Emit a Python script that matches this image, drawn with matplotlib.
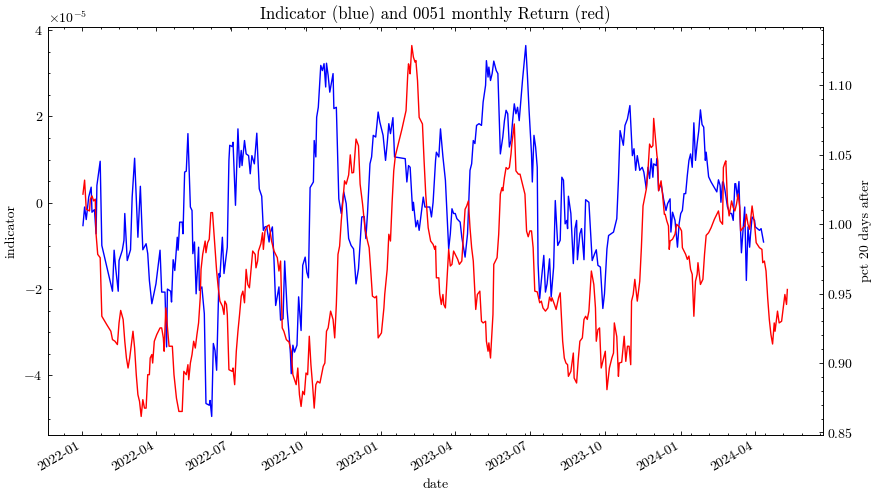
import numpy as np
import pandas as pd
import matplotlib
matplotlib.use("Agg")
import matplotlib.pyplot as plt

# dates are given as days after 2022-01-01
start = pd.Timestamp("2022-01-01")

ind_day = [1, 3, 5, 8, 11, 12, 15, 17, 18, 22, 24, 37, 39, 41, 44, 45, 49, 51, 52, 55,
           59, 61, 64, 68, 71, 74, 78, 80, 82, 85, 90, 95, 97, 101, 103, 104, 108, 109, 111, 113,
           116, 117, 119, 122, 123, 125, 127, 129, 132, 134, 135, 137, 139, 142, 143, 146, 149, 151, 155, 156,
           158, 160, 162, 164, 167, 168, 171, 173, 177, 179, 180, 183, 184, 187, 190, 192, 194, 195, 198, 200,
           203, 205, 207, 210, 213, 216, 219, 221, 223, 225, 228, 229, 232, 234, 236, 240, 242, 245, 247, 250,
           252, 254, 255, 257, 259, 262, 264, 267, 269, 272, 274, 276, 278, 282, 283, 285, 286, 288, 291, 293,
           295, 297, 298, 300, 302, 306, 307, 310, 311, 313, 316, 319, 322, 325, 328, 331, 334, 337, 339, 341,
           344, 346, 348, 351, 353, 355, 358, 361, 363, 367, 370, 372, 374, 376, 379, 381, 394, 396, 398, 400,
           403, 404, 407, 409, 411, 413, 416, 418, 424, 426, 428, 431, 432, 435, 437, 440, 443, 445, 447, 449,
           451, 453, 455, 457, 459, 461, 463, 465, 467, 470, 473, 475, 477, 479, 481, 484, 487, 489, 492, 493,
           495, 496, 498, 500, 502, 505, 507, 510, 513, 515, 517, 519, 521, 523, 525, 527, 529, 531, 533, 537,
           541, 543, 545, 548, 549, 551, 553, 555, 556, 558, 560, 563, 565, 567, 570, 572, 575, 577, 580, 583,
           585, 587, 589, 591, 592, 593, 596, 599, 601, 603, 604, 607, 609, 612, 614, 618, 622, 625, 627, 629,
           632, 635, 637, 640, 642, 648, 652, 654, 656, 660, 662, 665, 668, 671, 673, 675, 677, 680, 683, 685,
           688, 690, 692, 694, 696, 697, 700, 701, 703, 706, 709, 712, 714, 717, 718, 720, 723, 726, 728, 730,
           732, 734, 736, 738, 740, 742, 744, 746, 748, 750, 752, 754, 756, 758, 760, 761, 764, 767, 774, 776,
           778, 779, 781, 782, 784, 787, 790, 792, 794, 796, 797, 799, 801, 802, 804, 806, 808, 810, 812, 814,
           815, 817, 820, 821, 826, 828, 831]
# indicator, in units of 1e-5
ind_val = [-0.53, -0.10, -0.39, 0.13, 0.36, -0.22, -0.16, -0.72, 0.40, 0.96, -0.99, -2.05, -1.10, -1.53, -2.05, -1.34, -1.10, -0.87, -0.25, -1.34,
           -1.09, 0.13, 1.03, -0.80, 0.38, -1.09, -0.95, -1.18, -1.80, -2.34, -1.88, -1.10, -2.07, -2.07, -3.34, -2.00, -2.05, -2.30, -1.32, -1.57,
           -0.80, -1.10, -0.45, -0.45, -0.72, 0.71, 0.73, 1.60, -0.10, -0.18, -1.18, -0.91, -2.11, -1.03, -2.03, -1.95, -2.57, -4.65, -4.69, -4.58,
           -4.95, -3.26, -3.42, -3.88, -1.64, -1.72, -0.80, -1.64, -1.03, 0.98, 1.33, 1.30, 1.40, -0.06, 1.71, 0.82, 1.21, 0.86, 1.44, 1.13,
           1.09, 0.67, 1.09, 0.90, 1.61, 0.32, 0.15, -0.64, -0.56, -0.55, -0.91, -0.72, -0.56, -1.34, -2.38, -1.95, -2.72, -2.69, -1.35, -2.49,
           -2.96, -3.50, -3.96, -3.30, -3.46, -3.30, -2.18, -2.96, -1.45, -1.26, -1.61, -1.74, 0.35, 0.48, 1.44, 1.06, 1.98, 2.21, 3.18, 3.06,
           3.22, 2.68, 3.23, 2.95, 2.56, 2.99, 2.18, 2.21, 1.52, 0.09, -0.25, 0.25, -0.02, -0.83, -0.99, -1.07, -1.88, -1.53, -0.91, -0.33,
           -0.32, -0.83, -0.25, 0.90, 1.06, 1.56, 1.52, 2.10, 1.87, 1.56, 0.98, 1.37, 1.83, 1.60, 1.97, 1.06, 1.02, 0.48, 0.86, 0.82,
           -0.18, 0.01, -0.56, -0.41, -0.64, -0.33, 0.13, -0.10, -0.10, -0.33, 0.01, 0.98, 1.17, 1.06, 1.71, 1.06, 0.52, -0.25, -1.07, -0.72,
           -0.14, -0.25, -0.25, -0.37, -0.41, -0.45, -0.80, -1.03, -1.26, -0.72, 0.75, 0.90, 1.44, 1.37, 1.79, 1.83, 1.79, 2.33, 2.72, 3.29,
           2.91, 3.14, 2.83, 2.99, 3.28, 3.06, 2.99, 1.13, 1.52, 1.90, 2.14, 2.06, 1.29, 1.44, 1.90, 2.29, 2.06, 2.21, 1.90, 2.83,
           3.64, 2.95, 2.15, 1.13, 0.48, 1.56, 1.29, 0.82, -1.41, -2.22, -1.80, -1.22, -2.07, -1.88, -1.30, -2.18, -1.49, 0.05, -0.99, -0.87,
           0.59, 0.52, -0.49, -0.41, -0.60, 0.15, -0.25, -1.41, -0.60, -0.41, -1.32, -0.72, -0.60, -1.32, 0.07, 0.01, -1.34, -1.18, -1.09, -1.45,
           -1.49, -2.45, -2.11, -1.07, -0.76, -0.68, -0.37, 0.52, 1.67, 1.33, 1.79, 1.94, 2.25, 1.09, 1.25, 0.75, 1.09, 0.75, 0.82, 0.71,
           0.32, 0.82, 0.56, 1.02, 0.59, 0.90, 0.86, 1.02, 0.28, 0.44, 0.09, -0.18, -0.02, 0.09, -0.68, -0.22, -0.41, -1.03, -0.49, -0.25,
           -0.18, 0.21, 0.21, 0.63, 0.98, 1.13, 0.82, 1.85, 0.98, 1.37, 1.67, 2.15, 1.81, 1.75, 0.98, 1.17, 0.60, 0.48, 0.25, 0.53,
           0.40, 0.01, 0.48, 0.48, 0.28, -0.10, -0.25, -0.25, -0.41, 0.44, 0.44, 0.13, 0.49, -0.18, -1.16, -0.64, -0.10, -1.80, -0.56, -1.03,
           -0.76, -0.33, -0.41, -0.56, -0.64, -0.60, -0.91]

ret_day = [1, 3, 5, 9, 10, 12, 14, 16, 17, 19, 22, 24, 30, 35, 37, 40, 43, 45, 47, 50,
           52, 54, 56, 58, 60, 62, 64, 66, 68, 70, 72, 74, 76, 78, 80, 82, 83, 85, 86, 88,
           91, 95, 97, 99, 100, 102, 106, 110, 112, 115, 118, 122, 124, 127, 129, 130, 132, 134, 136, 138,
           140, 142, 144, 145, 147, 150, 151, 153, 155, 157, 159, 162, 164, 166, 168, 171, 173, 174, 176, 177,
           179, 183, 184, 186, 188, 190, 192, 194, 196, 198, 200, 202, 204, 206, 208, 211, 212, 214, 215, 218,
           220, 221, 223, 226, 228, 231, 234, 238, 240, 242, 244, 246, 249, 251, 252, 255, 257, 259, 261, 263,
           265, 267, 269, 271, 273, 275, 277, 279, 281, 283, 285, 287, 290, 292, 294, 296, 298, 300, 303, 306,
           308, 310, 312, 314, 316, 318, 320, 322, 325, 327, 329, 331, 334, 337, 339, 342, 345, 348, 350, 352,
           354, 357, 359, 361, 365, 368, 369, 372, 374, 376, 378, 380, 382, 386, 390, 395, 397, 398, 399, 400,
           402, 404, 406, 407, 409, 411, 415, 417, 419, 422, 425, 428, 430, 431, 432, 435, 436, 438, 440, 441,
           443, 445, 447, 449, 451, 453, 455, 458, 460, 463, 465, 467, 469, 471, 473, 475, 477, 479, 480, 482,
           485, 487, 489, 492, 493, 495, 496, 498, 501, 502, 506, 508, 510, 512, 513, 515, 517, 519, 521, 523,
           524, 527, 529, 532, 534, 536, 538, 540, 542, 544, 546, 548, 550, 552, 555, 558, 560, 562, 565, 568,
           570, 572, 573, 576, 578, 581, 583, 586, 588, 590, 592, 593, 596, 599, 600, 603, 605, 607, 610, 612,
           614, 616, 618, 621, 624, 626, 627, 629, 631, 633, 636, 638, 640, 643, 646, 648, 649, 652, 654, 655,
           658, 661, 663, 665, 667, 669, 670, 672, 674, 677, 680, 682, 684, 686, 688, 690, 692, 694, 696, 697,
           699, 701, 702, 703, 706, 708, 710, 711, 713, 715, 716, 717, 720, 723, 725, 727, 729, 731, 732, 734,
           736, 738, 740, 742, 744, 746, 748, 750, 751, 754, 757, 759, 761, 764, 767, 771, 776, 778, 781, 782,
           784, 785, 787, 789, 792, 794, 796, 798, 800, 802, 803, 806, 808, 810, 812, 814, 817, 820, 822, 826,
           829, 830, 832, 834, 836, 838, 840, 842, 844, 845, 848, 850, 853, 857, 859, 860]
# price ratio 20 trading days later
ret_val = [1.0217, 1.0318, 1.0108, 1.0096, 1.0181, 1.0204, 1.0168, 1.0181, 0.9928, 0.9783, 0.9759, 0.9337, 0.9277, 0.9229, 0.9169, 0.9157, 0.9133, 0.9289, 0.9379, 0.9314,
           0.9157, 0.9036, 0.8964, 0.9036, 0.9133, 0.9229, 0.9108, 0.8916, 0.8772, 0.8723, 0.8615, 0.8736, 0.8675, 0.8675, 0.8916, 0.8916, 0.9036, 0.9061, 0.9000, 0.9157,
           0.9205, 0.9253, 0.9253, 0.9181, 0.9085, 0.9397, 0.9121, 0.9121, 0.8916, 0.8747, 0.8651, 0.8651, 0.8940, 0.8916, 0.8988, 0.8880, 0.9000, 0.9061, 0.9157, 0.9108,
           0.9205, 0.9289, 0.9470, 0.9675, 0.9783, 0.9879, 0.9795, 0.9867, 0.9892, 1.0084, 1.0084, 0.9831, 0.9663, 0.9542, 0.9446, 0.9410, 0.9350, 0.9446, 0.9422, 0.9350,
           0.8952, 0.8940, 0.8964, 0.8844, 0.9085, 0.9229, 0.9350, 0.9482, 0.9518, 0.9434, 0.9675, 0.9566, 0.9542, 0.9675, 0.9807, 0.9783, 0.9686, 0.9735, 0.9807, 0.9860,
           0.9939, 0.9819, 0.9952, 0.9988, 0.9995, 0.9879, 0.9807, 0.9759, 0.9663, 0.9735, 0.9253, 0.9229, 0.9169, 0.9157, 0.9157, 0.9085, 0.8916, 0.8880, 0.8844, 0.8964,
           0.8772, 0.8687, 0.8796, 0.8772, 0.8928, 0.8916, 0.9193, 0.8988, 0.8844, 0.8675, 0.8844, 0.8868, 0.8856, 0.8916, 0.8976, 0.9000, 0.9229, 0.9253, 0.9374, 0.9314,
           0.9181, 0.9422, 0.9783, 0.9843, 1.0024, 1.0168, 1.0313, 1.0289, 1.0355, 1.0500, 1.0370, 1.0373, 1.0614, 1.0566, 1.0289, 1.0145, 0.9964, 0.9879, 0.9831, 0.9663,
           0.9482, 0.9470, 0.9482, 0.9181, 0.9217, 0.9397, 0.9494, 0.9675, 0.9928, 0.9879, 1.0156, 1.0385, 1.0494, 1.0590, 1.0686, 1.0819, 1.1072, 1.1156, 1.1132, 1.1084,
           1.1288, 1.1204, 1.1168, 1.1180, 1.1035, 1.0770, 1.0723, 1.0457, 1.0217, 0.9975, 0.9879, 0.9855, 0.9819, 0.9843, 0.9614, 0.9614, 0.9500, 0.9422, 0.9494, 0.9422,
           0.9397, 0.9614, 0.9819, 0.9699, 0.9711, 0.9807, 0.9783, 0.9747, 0.9711, 0.9735, 0.9928, 1.0108, 1.0132, 1.0168, 0.9975, 0.9831, 0.9735, 0.9494, 0.9386, 0.9494,
           0.9518, 0.9301, 0.9289, 0.9301, 0.9157, 0.9085, 0.9145, 0.9036, 0.9350, 0.9711, 0.9759, 0.9928, 1.0217, 1.0264, 1.0241, 1.0337, 1.0409, 1.0397, 1.0409, 1.0506,
           1.0578, 1.0723, 1.0385, 1.0361, 1.0361, 1.0313, 1.0264, 1.0217, 0.9950, 0.9910, 0.9952, 0.9952, 0.9831, 0.9518, 0.9513, 0.9434, 0.9446, 0.9397, 0.9374, 0.9397,
           0.9475, 0.9446, 0.9470, 0.9422, 0.9386, 0.9470, 0.9506, 0.9157, 0.9036, 0.9000, 0.8988, 0.8904, 0.8940, 0.9072, 0.8892, 0.8856, 0.9025, 0.9157, 0.9181, 0.9314,
           0.9337, 0.9314, 0.9374, 0.9663, 0.9566, 0.9397, 0.9157, 0.9241, 0.9253, 0.8964, 0.9036, 0.9085, 0.8808, 0.8964, 0.9036, 0.9072, 0.9289, 0.9190, 0.8904, 0.9000,
           0.9006, 0.9193, 0.9012, 0.9121, 0.9121, 0.8988, 0.9446, 0.9494, 0.9603, 0.9446, 0.9590, 0.9831, 1.0132, 1.0192, 1.0253, 1.0385, 1.0578, 1.0553, 1.0566, 1.0763,
           1.0626, 1.0494, 1.0457, 1.0241, 1.0313, 1.0204, 1.0072, 1.0072, 1.0024, 0.9988, 0.9819, 0.9879, 0.9892, 0.9928, 1.0000, 0.9988, 0.9975, 0.9952, 0.9831, 0.9807,
           0.9783, 0.9747, 0.9771, 0.9675, 0.9639, 0.9337, 0.9590, 0.9639, 0.9723, 0.9566, 0.9603, 0.9783, 0.9920, 0.9939, 0.9975, 1.0036, 1.0096, 1.0024, 1.0000, 1.0409,
           1.0445, 1.0457, 1.0156, 1.0060, 1.0168, 1.0120, 1.0096, 1.0145, 1.0217, 1.0120, 0.9952, 0.9975, 0.9988, 1.0072, 1.0000, 0.9964, 1.0132, 1.0000, 0.9867, 0.9831,
           0.9819, 0.9723, 0.9735, 0.9663, 0.9470, 0.9314, 0.9205, 0.9137, 0.9289, 0.9229, 0.9374, 0.9289, 0.9301, 0.9494, 0.9422, 0.9530]

plt.rcParams.update({
    "font.family": "serif",
    "font.serif": ["cmr10"],
    "mathtext.fontset": "cm",
    "axes.formatter.use_mathtext": True,
    "font.size": 10,
    "axes.linewidth": 0.6,
    "lines.linewidth": 1.0,
    "xtick.direction": "in",
    "ytick.direction": "in",
    "xtick.top": True,
    "ytick.right": True,
    "xtick.minor.visible": True,
    "ytick.minor.visible": True,
    "xtick.major.size": 3,
    "ytick.major.size": 3,
    "xtick.minor.size": 1.5,
    "ytick.minor.size": 1.5,
    "xtick.major.width": 0.6,
    "ytick.major.width": 0.6,
    "xtick.minor.width": 0.6,
    "ytick.minor.width": 0.6,
})

ind_dates = start + pd.to_timedelta(ind_day, unit="D")
ret_dates = start + pd.to_timedelta(ret_day, unit="D")
ind = np.array(ind_val) * 1e-5

fig, ax = plt.subplots(figsize=(8.76, 4.96), dpi=100)
ax.plot(ind_dates, ind, color="b")
ax.set_xlabel("date")
ax.set_ylabel("indicator")

ax2 = ax.twinx()
ax2.plot(ret_dates, ret_val, color="r")
ax2.set_ylabel("pct 20 days after")

ax.set_title("Indicator (blue) and 0051 monthly Return (red)", fontsize=12)
fig.autofmt_xdate()
fig.subplots_adjust(left=0.0545, right=0.939, top=0.9456, bottom=0.123)
fig.savefig("out.png", dpi=100)
